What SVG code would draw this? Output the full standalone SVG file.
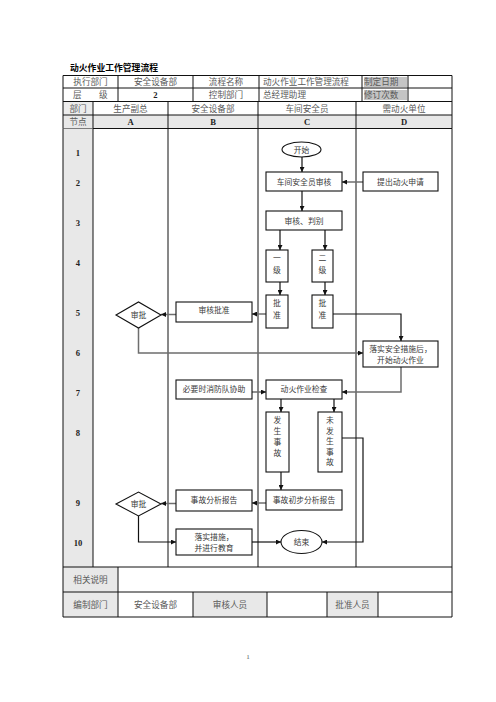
<svg xmlns="http://www.w3.org/2000/svg" width="496" height="702" viewBox="0 0 496 702">
<style>
text{font-family:"Liberation Serif","Noto Sans CJK SC",serif;font-size:8.6px;fill:#5a5a5a;text-anchor:middle}
.t{fill:#3a3a3a;font-size:7.8px}
.b{font-weight:bold;fill:#222}
.l{text-anchor:start}
.g{fill:#e8e8e8}
.cell{fill:none;stroke:#111;stroke-width:1}
.box{fill:#fff;stroke:#111;stroke-width:1.1}
.c{fill:none;stroke:#111;stroke-width:1.2}
.cg{fill:none;stroke:#6e6e6e;stroke-width:1.5}
</style>
<defs>
<marker id="a" viewBox="0 0 10 10" refX="10" refY="5" markerWidth="5" markerHeight="5" orient="auto" markerUnits="userSpaceOnUse"><path d="M0,0L10,5L0,10z" fill="#111"/></marker>
</defs>
<rect width="496" height="702" fill="#fff"/>
<g id="header">
<text class="b l" x="70" y="71" style="font-size:8.8px;fill:#000">动火作业工作管理流程</text>
<rect x="63" y="115" width="389" height="13.5" class="g"/>
<rect x="63" y="101.5" width="30" height="13.5" fill="#ececec"/>
<rect x="364" y="77" width="43" height="10" fill="#c4c4c4"/>
<rect x="364" y="90" width="43" height="10" fill="#c4c4c4"/>
<path class="cell" d="M63 75.5H452V128.5H63ZM63 88H452M63 101.5H452M63 115H452M118 75.5V101.5M193 75.5V101.5M259 75.5V101.5M362 75.5V101.5M408 75.5V101.5M93 101.5V128.5M168 101.5V128.5M258 101.5V128.5M356 101.5V128.5"/>
<text x="90.5" y="85">执行部门</text>
<text x="155.5" y="85">安全设备部</text>
<text x="226" y="85">流程名称</text>
<text class="l" x="263" y="85">动火作业工作管理流程</text>
<text class="l" x="364" y="85">制定日期</text>
<text class="l" x="73" y="98">层</text>
<text class="l" x="99" y="98">级</text>
<text class="b" x="155.5" y="98">2</text>
<text x="226" y="98">控制部门</text>
<text class="l" x="263" y="98">总经理助理</text>
<text class="l" x="364" y="98">修订次数</text>
<text x="78" y="111.5">部门</text>
<text x="130.5" y="111.5">生产副总</text>
<text x="213" y="111.5">安全设备部</text>
<text x="307" y="111.5">车间安全员</text>
<text x="404" y="111.5">需动火单位</text>
<text x="78" y="125">节点</text>
<text class="b" x="130.5" y="125">A</text>
<text class="b" x="213" y="125">B</text>
<text class="b" x="307" y="125">C</text>
<text class="b" x="404" y="125">D</text>
</g>
<g id="body">
<rect x="63" y="128.5" width="30" height="438.5" class="g"/>
<path class="cell" d="M63 128.5V567M93 128.5V567M168 128.5V567M258 128.5V567M356 128.5V567M452 128.5V567"/>
<text class="b" x="78" y="156">1</text>
<text class="b" x="78" y="186">2</text>
<text class="b" x="78" y="226">3</text>
<text class="b" x="78" y="266">4</text>
<text class="b" x="78" y="316">5</text>
<text class="b" x="78" y="356">6</text>
<text class="b" x="78" y="396">7</text>
<text class="b" x="78" y="436">8</text>
<text class="b" x="78" y="506">9</text>
<text class="b" x="78" y="546">10</text>
</g>
<g id="footer">
<rect x="63" y="567" width="55" height="50" class="g"/>
<rect x="193" y="592" width="74" height="25" class="g"/>
<rect x="327" y="592" width="51" height="25" class="g"/>
<path class="cell" d="M63 567H452V617H63ZM63 592H452M118 567V617M193 592V617M267 592V617M327 592V617M378 592V617"/>
<text x="90.5" y="583">相关说明</text>
<text x="90.5" y="608">编制部门</text>
<text x="155.5" y="608">安全设备部</text>
<text x="230" y="608">审核人员</text>
<text x="352.5" y="608">批准人员</text>
<text x="248" y="659" style="font-size:7px">1</text>
</g>
<g id="connectors">
<path class="c" d="M302 157V172" marker-end="url(#a)"/>
<path class="cg" d="M363 182H342" marker-end="url(#a)"/>
<path class="c" d="M302 191V211" marker-end="url(#a)"/>
<path class="c" d="M280 230V250" marker-end="url(#a)"/>
<path class="c" d="M325 230V250" marker-end="url(#a)"/>
<path class="c" d="M280 282V295" marker-end="url(#a)"/>
<path class="c" d="M325 282V295" marker-end="url(#a)"/>
<path class="cg" d="M266 314H252" marker-end="url(#a)"/>
<path class="cg" d="M176 314.5H161" marker-end="url(#a)"/>
<path class="cg" d="M138.5 328V353H363" marker-end="url(#a)"/>
<path class="c" d="M333 314H401V341" marker-end="url(#a)"/>
<path class="cg" d="M401 367V392H342" marker-end="url(#a)"/>
<path class="cg" d="M252 392H266" marker-end="url(#a)"/>
<path class="c" d="M281 399V412" marker-end="url(#a)"/>
<path class="c" d="M334 399V412" marker-end="url(#a)"/>
<path class="c" d="M281 472V490" marker-end="url(#a)"/>
<path class="cg" d="M266 503H252" marker-end="url(#a)"/>
<path class="cg" d="M176 503.5H161" marker-end="url(#a)"/>
<path class="c" d="M138.5 516V542H176" marker-end="url(#a)"/>
<path class="c" d="M252 542H281" marker-end="url(#a)"/>
<path class="c" d="M342 438H363V542H322" marker-end="url(#a)"/>
</g>
<g id="start"><ellipse cx="301.5" cy="149.5" rx="19.5" ry="7.5" class="box"/><text class="t" x="301.5" y="152.5">开始</text></g>
<g id="n_c2"><rect x="266" y="172" width="76" height="19" class="box"/><text class="t" x="304" y="184.5">车间安全员审核</text></g>
<g id="n_d2"><rect x="363" y="172" width="75" height="19" class="box"/><text class="t" x="400.5" y="184.5">提出动火申请</text></g>
<g id="n_c3"><rect x="266" y="211" width="76" height="19" class="box"/><text class="t" x="304" y="223.5">审核、判别</text></g>
<g id="n_l1"><rect x="266" y="250" width="22" height="32" class="box"/><text class="t" x="277" y="261">一</text><text class="t" x="277" y="273">级</text></g>
<g id="n_l2"><rect x="312" y="250" width="21" height="32" class="box"/><text class="t" x="322.5" y="261">二</text><text class="t" x="322.5" y="273">级</text></g>
<g id="n_p1"><rect x="266" y="295" width="22" height="33" class="box"/><text class="t" x="277" y="306">批</text><text class="t" x="277" y="318">准</text></g>
<g id="n_p2"><rect x="312" y="295" width="21" height="33" class="box"/><text class="t" x="322.5" y="306">批</text><text class="t" x="322.5" y="318">准</text></g>
<g id="n_b5"><rect x="176" y="302" width="76" height="20" class="box"/><text class="t" x="214" y="313">审核批准</text></g>
<g id="n_a5"><polygon points="116,315 138.5,302 161,315 138.5,328" class="box"/><text class="t" x="138.5" y="318">审批</text></g>
<g id="n_d6"><rect x="363" y="341" width="75" height="26" class="box"/><text class="t" x="400.5" y="352">落实安全措施后，</text><text class="t" x="400.5" y="363">开始动火作业</text></g>
<g id="n_b7"><rect x="176" y="380" width="76" height="19" class="box"/><text class="t" x="214" y="392">必要时消防队协助</text></g>
<g id="n_c7"><rect x="266" y="380" width="76" height="19" class="box"/><text class="t" x="304" y="392">动火作业检查</text></g>
<g id="n_c8a"><rect x="266" y="412" width="23" height="60" class="box"/><text class="t" x="277.5" y="423">发</text><text class="t" x="277.5" y="434">生</text><text class="t" x="277.5" y="445">事</text><text class="t" x="277.5" y="456">故</text></g>
<g id="n_c8b"><rect x="318" y="412" width="24" height="60" class="box"/><text class="t" x="330" y="423">未</text><text class="t" x="330" y="433.5">发</text><text class="t" x="330" y="444">生</text><text class="t" x="330" y="454.5">事</text><text class="t" x="330" y="465">故</text></g>
<g id="n_c9"><rect x="266" y="490" width="76" height="20" class="box"/><text class="t" x="304" y="502.5">事故初步分析报告</text></g>
<g id="n_b9"><rect x="176" y="490" width="76" height="21" class="box"/><text class="t" x="214" y="502.5">事故分析报告</text></g>
<g id="n_a9"><polygon points="116,504 138.5,492 161,504 138.5,516" class="box"/><text class="t" x="138.5" y="507">审批</text></g>
<g id="n_b10"><rect x="176" y="529" width="76" height="26" class="box"/><text class="t" x="214" y="540">落实措施，</text><text class="t" x="214" y="551">并进行教育</text></g>
<g id="end"><ellipse cx="301.5" cy="542" rx="20.5" ry="11.5" class="box"/><text class="t" x="301.5" y="545">结束</text></g>
</svg>
